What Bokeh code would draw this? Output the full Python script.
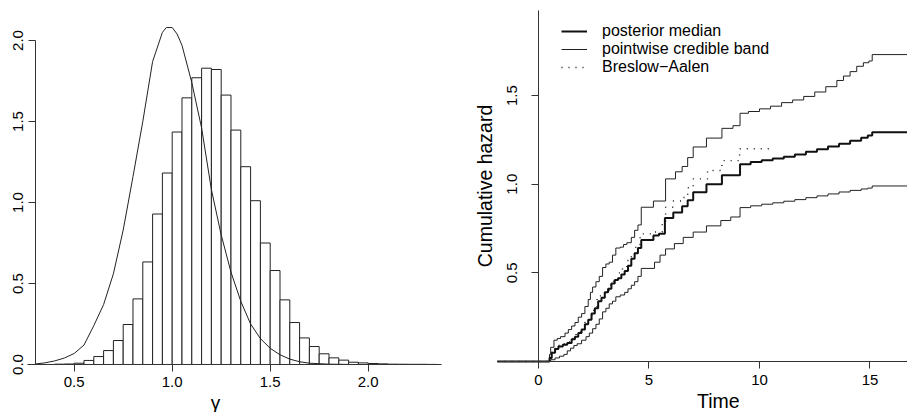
from bokeh.plotting import figure
from bokeh.layouts import row
from bokeh.models import FixedTicker, Range1d, Label, Legend, LegendItem
from bokeh.embed import file_html
from bokeh.resources import INLINE

FONT = "Liberation Sans"

# ---------------- left panel data ----------------
hist_edges = [0.40, 0.45, 0.50, 0.55, 0.60, 0.65, 0.70, 0.75, 0.80, 0.85,
              0.90, 0.95, 1.00, 1.05, 1.10, 1.15, 1.20, 1.25, 1.30, 1.35,
              1.40, 1.45, 1.50, 1.55, 1.60, 1.65, 1.70, 1.75, 1.80, 1.85,
              1.90, 1.95, 2.00, 2.05, 2.10, 2.15, 2.20, 2.25, 2.30, 2.35]
hist_density = [0.002, 0.003, 0.008, 0.025, 0.049, 0.086, 0.148, 0.247, 0.405, 0.633,
                0.929, 1.182, 1.435, 1.646, 1.770, 1.829, 1.821, 1.663, 1.447, 1.221,
                1.011, 0.750, 0.580, 0.399, 0.259, 0.164, 0.111, 0.066, 0.041, 0.027,
                0.014, 0.010, 0.006, 0.004, 0.002, 0.0015, 0.001, 0.001, 0.0005]

prior_x = [0.30, 0.35, 0.40, 0.45, 0.50, 0.55, 0.60, 0.65, 0.70, 0.75, 0.80, 0.85,
           0.90, 0.95, 0.97, 1.00, 1.025, 1.05, 1.10, 1.15, 1.20, 1.25, 1.30, 1.35,
           1.40, 1.45, 1.50, 1.55, 1.60, 1.65, 1.70, 1.80, 1.90]
prior_y = [0.003, 0.01, 0.022, 0.04, 0.068, 0.12, 0.24, 0.37, 0.56, 0.83, 1.16, 1.5,
           1.87, 2.05, 2.08, 2.08, 2.04, 1.97, 1.74, 1.46, 1.08, 0.8, 0.57, 0.39,
           0.25, 0.16, 0.1, 0.06, 0.033, 0.017, 0.008, 0.002, 0.0005]

left_xticks = [0.5, 1.0, 1.5, 2.0]
left_yticks = [0.0, 0.5, 1.0, 1.5, 2.0]

# ---------------- right panel data ----------------
upper_t = [-1.855, 0.5, 0.55, 0.7, 0.85, 1.0, 1.2, 1.35, 1.5, 1.65, 1.8, 1.95, 2.1, 2.25, 2.35,
           2.45, 2.6, 2.75, 2.9, 3.05, 3.2, 3.35, 3.5, 3.7, 3.85, 4.0, 4.2, 4.35, 4.5, 4.65,
           5.2, 5.75, 6.2, 6.5, 6.75, 7.0, 7.6, 8.3, 8.8, 9.12, 9.5, 10.0, 10.5, 11.0,
           11.5, 12.0, 12.5, 13.0, 13.5, 13.8, 14.1, 14.4, 14.7, 14.95, 15.1, 17]
upper_h = [0, 0.04, 0.08, 0.12, 0.13, 0.14, 0.16, 0.18, 0.2, 0.22, 0.25, 0.27, 0.31, 0.35, 0.39,
           0.42, 0.45, 0.48, 0.53, 0.55, 0.56, 0.6, 0.64, 0.645, 0.66, 0.67, 0.7, 0.74, 0.77, 0.87,
           0.905, 1.03, 1.07, 1.1, 1.15, 1.21, 1.26, 1.315, 1.33, 1.40, 1.41, 1.425, 1.44, 1.46,
           1.475, 1.495, 1.52, 1.55, 1.585, 1.61, 1.635, 1.665, 1.685, 1.695, 1.731, 1.731]

median_t = [-1.855, 0.5, 0.6, 0.75, 0.9, 1.1, 1.3, 1.5, 1.65, 1.8, 1.95, 2.1, 2.25, 2.4, 2.55, 2.7,
            2.85, 3.0, 3.15, 3.3, 3.45, 3.6, 3.75, 3.9, 4.05, 4.2, 4.35, 4.5, 4.65, 5.2, 5.45,
            5.72, 6.1, 6.5, 6.75, 7.0, 7.6, 8.3, 9.12, 9.6, 10.1, 10.6, 11.1, 11.6, 12.1,
            12.6, 13.1, 13.6, 14.1, 14.6, 14.9, 15.1, 17]
median_h = [0, 0.02, 0.05, 0.07, 0.085, 0.095, 0.105, 0.125, 0.14, 0.16, 0.18, 0.21, 0.235, 0.27,
            0.3, 0.34, 0.36, 0.39, 0.41, 0.44, 0.46, 0.47, 0.49, 0.51, 0.54, 0.58, 0.61, 0.64,
            0.685, 0.71, 0.72, 0.81, 0.84, 0.875, 0.91, 0.955, 1.0, 1.05, 1.112, 1.125, 1.135,
            1.145, 1.155, 1.168, 1.183, 1.197, 1.212, 1.228, 1.245, 1.262, 1.275, 1.293, 1.293]

lower_t = [-1.855, 0.55, 0.75, 0.95, 1.15, 1.3, 1.45, 1.6, 1.75, 1.95, 2.15, 2.3, 2.45, 2.6, 2.75,
           2.9, 3.05, 3.2, 3.35, 3.5, 3.7, 3.9, 4.05, 4.2, 4.35, 4.5, 4.65, 5.25, 5.5, 5.75,
           6.15, 6.55, 7.0, 7.6, 8.25, 8.7, 9.12, 9.6, 10.1, 10.6, 11.1, 11.6, 12.1, 12.6,
           13.1, 13.6, 14.1, 14.6, 14.9, 15.1, 17]
lower_h = [0, 0.01, 0.02, 0.03, 0.04, 0.06, 0.075, 0.09, 0.1, 0.12, 0.14, 0.16, 0.185, 0.21, 0.24,
           0.28, 0.3, 0.325, 0.34, 0.365, 0.375, 0.39, 0.41, 0.43, 0.45, 0.48, 0.525, 0.56, 0.6,
           0.635, 0.665, 0.7, 0.73, 0.765, 0.795, 0.815, 0.868, 0.878, 0.887, 0.895, 0.904,
           0.913, 0.924, 0.934, 0.945, 0.956, 0.965, 0.973, 0.978, 0.99, 0.99]

breslow_t = [-1.855, 0.5, 0.6, 0.75, 0.9, 1.1, 1.3, 1.5, 1.7, 1.9, 2.1, 2.3, 2.5, 2.65, 2.85, 3.0,
             3.2, 3.4, 3.6, 3.8, 4.0, 4.2, 4.4, 4.6, 5.2, 5.6, 5.75, 6.1, 6.5, 6.75, 7.0, 7.65,
             8.3, 9.1, 10.6]
breslow_h = [0, 0.025, 0.055, 0.075, 0.09, 0.1, 0.11, 0.13, 0.155, 0.18, 0.22, 0.26, 0.3, 0.37,
             0.38, 0.4, 0.43, 0.46, 0.5, 0.53, 0.57, 0.61, 0.66, 0.72, 0.73, 0.79, 0.87, 0.905,
             0.925, 0.98, 1.03, 1.077, 1.133, 1.2, 1.2]

right_xticks = [0, 5, 10, 15]
right_yticks = [0.5, 1.0, 1.5]

legend_labels = ["posterior median", "pointwise credible band", "Breslow\u2212Aalen"]

AXIS_COLOR = "#333333"


def style_axis(ax, ticks, fmt, size="15px"):
    ax.ticker = FixedTicker(ticks=ticks)
    ax.major_label_overrides = {t: fmt.format(t) for t in ticks}
    ax.minor_tick_line_color = None
    ax.major_tick_in = 0
    ax.major_tick_out = 7
    ax.axis_line_color = AXIS_COLOR
    ax.major_tick_line_color = AXIS_COLOR
    ax.major_label_text_font = FONT
    ax.major_label_text_font_size = size
    ax.major_label_text_color = "black"


def bare(p):
    p.outline_line_color = None
    p.grid.visible = False
    p.background_fill_color = "white"
    p.min_border_left = 0
    p.min_border_right = 0
    p.min_border_top = 0
    p.min_border_bottom = 0


# ---------------- left figure (frame covers the whole figure) ----------------
p1 = figure(width=460, height=412, output_backend="svg", toolbar_location=None,
            x_range=Range1d(0.1240, 2.4709), y_range=Range1d(-0.2963, 2.2469), title=None)
bare(p1)

p1.quad(left=hist_edges[:-1], right=hist_edges[1:], bottom=0, top=hist_density,
        fill_color="white", line_color="#222222", line_width=1)
p1.line(prior_x, prior_y, line_color="#222222", line_width=1)

style_axis(p1.xaxis[0], left_xticks, "{:.1f}")
style_axis(p1.yaxis[0], left_yticks, "{:.1f}")
p1.xaxis[0].fixed_location = 0
p1.xaxis[0].bounds = (0.2617, 2.374)
p1.xaxis[0].major_label_standoff = 6
p1.yaxis[0].fixed_location = 0.303
p1.yaxis[0].bounds = (0, 2)
p1.yaxis[0].major_label_orientation = "vertical"
p1.yaxis[0].major_label_standoff = 6

p1.add_layout(Label(x=1.221, y=-0.2346, text="\u03b3", text_align="center",
                    text_baseline="middle", text_font=FONT, text_font_size="19px",
                    text_color="black"))

# ---------------- right figure (frame covers the whole figure) ----------------
p2 = figure(width=447, height=412, output_backend="svg", toolbar_location=None,
            x_range=Range1d(-3.529, 16.697), y_range=Range1d(-0.2877, 2.0361), title=None)
bare(p2)

r_low = p2.step(lower_t, lower_h, mode="after", line_color="#222222", line_width=1)
r_up = p2.step(upper_t, upper_h, mode="after", line_color="#222222", line_width=1)
r_med = p2.step(median_t, median_h, mode="after", line_color="#111111", line_width=2)
r_bre = p2.step(breslow_t, breslow_h, mode="after", line_color="#111111", line_width=1.4,
                line_dash="1 6")

style_axis(p2.xaxis[0], right_xticks, "{:d}")
style_axis(p2.yaxis[0], right_yticks, "{:.1f}")
p2.xaxis[0].fixed_location = 0
p2.xaxis[0].bounds = (-1.855, 17)
p2.xaxis[0].major_label_standoff = 7
p2.yaxis[0].fixed_location = 0
p2.yaxis[0].bounds = (0, 1.98)
p2.yaxis[0].major_label_orientation = "vertical"
p2.yaxis[0].major_label_standoff = 14
p2.yaxis[0].axis_label = "Cumulative hazard"
p2.yaxis[0].axis_label_text_font = FONT
p2.yaxis[0].axis_label_text_font_size = "19.5px"
p2.yaxis[0].axis_label_text_font_style = "normal"
p2.yaxis[0].axis_label_text_color = "black"
p2.yaxis[0].axis_label_standoff = 9

p2.add_layout(Label(x=8.14, y=-0.2256, text="Time", text_align="center",
                    text_baseline="middle", text_font=FONT, text_font_size="19.5px",
                    text_color="black"))

legend = Legend(items=[LegendItem(label=legend_labels[0], renderers=[r_med]),
                       LegendItem(label=legend_labels[1], renderers=[r_up]),
                       LegendItem(label=legend_labels[2], renderers=[r_bre])],
                location=(101, 336))
legend.border_line_color = None
legend.background_fill_alpha = 0
legend.padding = 0
legend.margin = 0
legend.spacing = -1
legend.glyph_width = 26
legend.glyph_height = 16
legend.label_height = 16
legend.label_standoff = 15
legend.label_text_font = FONT
legend.label_text_font_size = "16px"
legend.label_text_color = "black"
p2.add_layout(legend)

layout = row(p1, p2)
open("out.html", "w").write(file_html(layout, INLINE))
